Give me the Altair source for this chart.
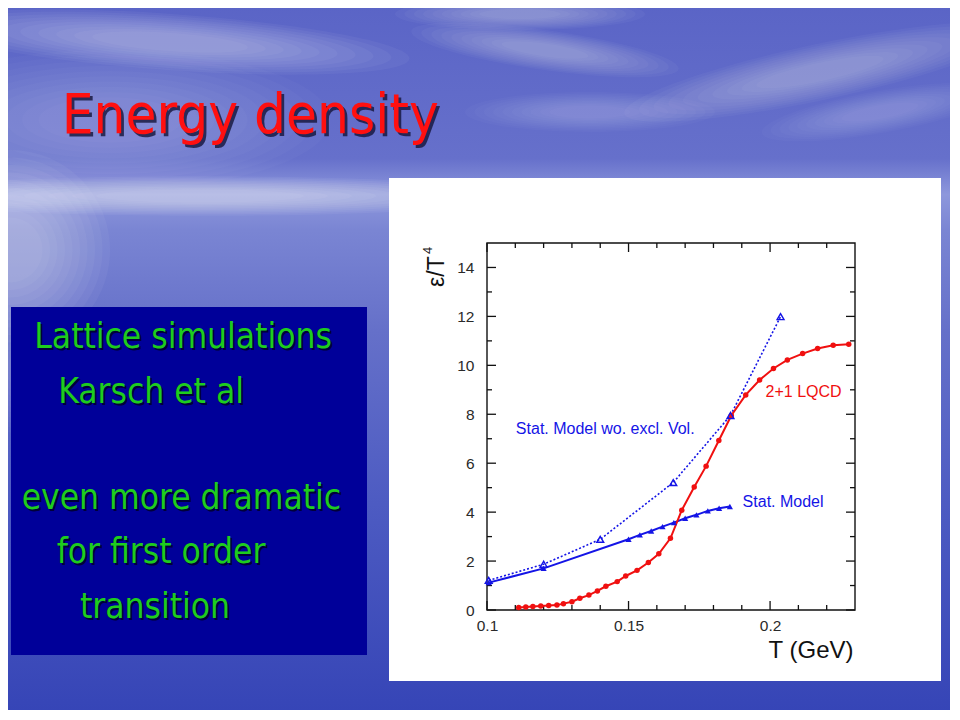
import altair as alt
import pandas as pd

# ---------------- data ----------------
lqcd_T = [0.1112, 0.1137, 0.1162, 0.1190, 0.1218, 0.1247, 0.1270, 0.1300, 0.1328, 0.1360,
          0.1390, 0.1420, 0.1460, 0.1490, 0.1530, 0.1570, 0.1607, 0.1648, 0.1688, 0.1732,
          0.1774, 0.1819, 0.1863, 0.1914, 0.1963, 0.2012, 0.2061, 0.2115, 0.2168, 0.2223, 0.2278]
lqcd_e = [0.10, 0.12, 0.14, 0.16, 0.18, 0.20, 0.26, 0.34, 0.48, 0.61,
          0.78, 0.97, 1.16, 1.39, 1.62, 1.94, 2.30, 2.93, 4.08, 5.03,
          5.88, 6.93, 7.95, 8.79, 9.40, 9.87, 10.22, 10.48, 10.69, 10.82, 10.86]

stat_T = [0.1006, 0.1200, 0.1500, 0.1540, 0.1580, 0.1620, 0.1660, 0.1700, 0.1740, 0.1780, 0.1820, 0.1858]
stat_e = [1.12, 1.70, 2.89, 3.07, 3.23, 3.41, 3.57, 3.75, 3.89, 4.05, 4.16, 4.23]

wo_T = [0.1006, 0.1200, 0.1400, 0.1658, 0.1860, 0.2037]
wo_e = [1.21, 1.87, 2.89, 5.21, 7.95, 11.99]

x_major = [0.1, 0.15, 0.2]
x_minor = [0.11, 0.12, 0.13, 0.14, 0.16, 0.17, 0.18, 0.19, 0.21, 0.22]
y_major = [0, 2, 4, 6, 8, 10, 12, 14]
y_minor = [1, 3, 5, 7, 9, 11, 13]

ann_text = ["Stat. Model wo. excl. Vol.", "2+1 LQCD", "Stat. Model"]
ann_series = ["wo", "lqcd", "stat"]
ann_T = [0.1102, 0.1984, 0.1903]
ann_e = [7.2, 8.7, 4.2]

slide_title = "Energy density"
bullet_lines = ["Lattice simulations", "Karsch et al", "even more dramatic",
                "for first order", "transition"]
x_title = "T (GeV)"
y_title_main = "\u03b5/T"
y_title_sup = "4"

# ---------------- layout ----------------
W, H = 368, 367          # plot frame
OX, OY = 487, 243        # page position of plot origin


def px(X):
    return X - OX


def py(Y):
    return Y - OY


RED = "#f01010"
BLUE = "#1414e6"
GREEN = "#1ecc1e"

one = pd.DataFrame({"k": [0]})
xscale = alt.Scale(domain=[0.1, 0.23], nice=False, zero=False)
yscale = alt.Scale(domain=[0, 15], nice=False, zero=False)

xaxis = alt.Axis(values=x_major, format=".2~f", ticks=False, tickSize=0, domain=False, grid=False,
                 labelFont="Liberation Sans", labelFontSize=15.5, labelColor="#2a2a2a",
                 labelPadding=8, labelFlush=False, title=None, zindex=2)
yaxis = alt.Axis(values=y_major, format="d", ticks=False, tickSize=0, domain=False, grid=False,
                 labelFont="Liberation Sans", labelFontSize=15.5, labelColor="#2a2a2a",
                 labelPadding=13, title=None, zindex=2)


def rect(x1, y1, x2, y2, **kw):
    return alt.Chart(one).mark_rect(**kw).encode(
        x=alt.value(px(x1)), x2=alt.value(px(x2)), y=alt.value(py(y1)), y2=alt.value(py(y2)))


def cloud(cx, cy, w, h, angle, alpha, n=10):
    r = h / w
    shape = f"M -1 0 A 1 {r:.3f} 0 1 1 1 0 A 1 {r:.3f} 0 1 1 -1 0 Z"
    out = []
    for i in range(n):
        s = 1 - i * (0.75 / n)
        out.append(alt.Chart(one).mark_point(shape=shape, filled=True, color="#ffffff",
                                             opacity=alpha, size=(w * s) ** 2, angle=angle,
                                             strokeWidth=0).encode(
            x=alt.value(px(cx)), y=alt.value(py(cy))))
    return out


def text(t, X, Y, **kw):
    return alt.Chart(one).mark_text(text=t, align="left", baseline="alphabetic", **kw).encode(
        x=alt.value(px(X)), y=alt.value(py(Y)))


# background sky / sea
bg = rect(0, 0, 960, 720, color={
    "gradient": "linear", "x1": 0, "y1": 0, "x2": 0, "y2": 1,
    "stops": [{"offset": 0.00, "color": "#5a64c6"},
              {"offset": 0.22, "color": "#6670cb"},
              {"offset": 0.27, "color": "#8d97dc"},
              {"offset": 0.32, "color": "#7a85d3"},
              {"offset": 0.46, "color": "#6570c9"},
              {"offset": 0.70, "color": "#4d5bc2"},
              {"offset": 1.00, "color": "#3544b6"}]})

clouds = (cloud(170, 42, 480, 56, 4, 0.045) +
          cloud(520, 14, 250, 32, 0, 0.035) +
          cloud(545, 50, 270, 40, 8, 0.035) +
          cloud(820, 72, 400, 56, 348, 0.035) +
          cloud(880, 112, 240, 42, 350, 0.025) +
          cloud(590, 112, 250, 40, 0, 0.025) +
          cloud(110, 120, 440, 140, 0, 0.022) +
          cloud(200, 196, 640, 40, 0, 0.05) +
          cloud(10, 250, 200, 200, 0, 0.045) +
          cloud(30, 370, 150, 130, 0, 0.02))

blue_box = rect(11, 307, 367, 655, color="#000099")
panel = rect(389, 178, 941, 681, color="#ffffff")
frame = alt.Chart(one).mark_rect(fillOpacity=0, stroke="#111111", strokeWidth=1.4).encode(
    x=alt.value(0), x2=alt.value(W), y=alt.value(0), y2=alt.value(H))

TFONT = "DejaVu Sans Condensed"
title_shadow = text(slide_title, 64.5, 136, font=TFONT, fontSize=56, color="#15153a", opacity=0.8)
title_main = text(slide_title, 61.7, 133, font=TFONT, fontSize=56, color="#ff1010")

bullet_x = [34.3, 58.3, 21.7, 56.7, 80.0]
bullet_y = [348.3, 402.7, 509.3, 563.3, 617.7]
bullets = []
for t, bx, byy in zip(bullet_lines, bullet_x, bullet_y):
    bullets.append(text(t, bx + 2, byy + 2, font=TFONT, fontSize=35, color="#000022", opacity=0.8))
    bullets.append(text(t, bx, byy, font=TFONT, fontSize=35, color=GREEN))

# ---------------- plot ----------------
lqcd = pd.DataFrame({"T": lqcd_T, "e": lqcd_e})
stat = pd.DataFrame({"T": stat_T, "e": stat_e})
wo = pd.DataFrame({"T": wo_T, "e": wo_e})
ann = pd.DataFrame({"T": ann_T, "e": ann_e, "label": ann_text, "series": ann_series})

X = alt.X("T:Q", scale=xscale, axis=xaxis)
Y = alt.Y("e:Q", scale=yscale, axis=yaxis)

lqcd_line = alt.Chart(lqcd).mark_line(color=RED, strokeWidth=2).encode(x=X, y=Y)
lqcd_pts = alt.Chart(lqcd).mark_point(shape="circle", filled=True, size=30, color=RED, opacity=1).encode(x=X, y=Y)

stat_line = alt.Chart(stat).mark_line(color=BLUE, strokeWidth=2).encode(x=X, y=Y)
stat_pts = alt.Chart(stat).mark_point(shape="triangle-up", filled=True, size=38, color=BLUE, opacity=1).encode(x=X, y=Y)

wo_line = alt.Chart(wo).mark_line(color=BLUE, strokeWidth=1.6, strokeDash=[2, 2]).encode(x=X, y=Y)
wo_pts = alt.Chart(wo).mark_point(shape="triangle-up", filled=False, size=48, color=BLUE,
                                  strokeWidth=1.4, opacity=1).encode(x=X, y=Y)

ann_layer = alt.Chart(ann).mark_text(align="left", baseline="alphabetic", font="Liberation Sans",
                                     fontSize=16).encode(
    x=X, y=Y, text="label:N",
    color=alt.Color("series:N", scale=alt.Scale(domain=["wo", "lqcd", "stat"], range=[BLUE, RED, BLUE]),
                    legend=None))

# tick marks (inward, all four sides)
ymaj = pd.DataFrame({"v": y_major})
ymin = pd.DataFrame({"v": y_minor})
xmaj = pd.DataFrame({"v": x_major})
xmin = pd.DataFrame({"v": x_minor})
TY = alt.Y("v:Q", scale=yscale, axis=yaxis)
TX = alt.X("v:Q", scale=xscale, axis=xaxis)
tk = dict(color="#111111", strokeWidth=1.3)
ticks = [
    alt.Chart(ymaj).mark_rule(**tk).encode(y=TY, x=alt.value(0), x2=alt.value(9)),
    alt.Chart(ymaj).mark_rule(**tk).encode(y=TY, x=alt.value(W), x2=alt.value(W - 9)),
    alt.Chart(ymin).mark_rule(**tk).encode(y=TY, x=alt.value(0), x2=alt.value(5)),
    alt.Chart(ymin).mark_rule(**tk).encode(y=TY, x=alt.value(W), x2=alt.value(W - 5)),
    alt.Chart(xmaj).mark_rule(**tk).encode(x=TX, y=alt.value(H), y2=alt.value(H - 9)),
    alt.Chart(xmaj).mark_rule(**tk).encode(x=TX, y=alt.value(0), y2=alt.value(9)),
    alt.Chart(xmin).mark_rule(**tk).encode(x=TX, y=alt.value(H), y2=alt.value(H - 5)),
    alt.Chart(xmin).mark_rule(**tk).encode(x=TX, y=alt.value(0), y2=alt.value(5)),
]

x_title_layer = alt.Chart(one).mark_text(text=x_title, align="right", baseline="alphabetic",
                                         font="Liberation Sans", fontSize=24, color="#111111").encode(
    x=alt.value(px(853.5)), y=alt.value(py(658)))
y_title_layer = alt.Chart(one).mark_text(text=y_title_main, angle=270, align="left", baseline="alphabetic",
                                         font="Liberation Sans", fontSize=23, color="#111111").encode(
    x=alt.value(px(444)), y=alt.value(py(287)))
y_sup_layer = alt.Chart(one).mark_text(text=y_title_sup, angle=270, align="left", baseline="alphabetic",
                                       font="Liberation Sans", fontSize=13, color="#111111").encode(
    x=alt.value(px(432)), y=alt.value(py(254)))

layers = ([bg] + clouds + [blue_box, title_shadow, title_main] + bullets +
          [panel, frame] + ticks +
          [wo_line, stat_line, lqcd_line, lqcd_pts, stat_pts, wo_pts, ann_layer,
           x_title_layer, y_title_layer, y_sup_layer])

chart = alt.layer(*layers).properties(
    width=W, height=H,
    autosize=alt.AutoSizeParams(type="none"),
    padding={"left": OX - 8, "top": OY - 8, "right": 944 - (OX - 8) - W - 2, "bottom": 704 - (OY - 8) - H - 2},
    background="#3847b7",
).configure_view(strokeWidth=0)

chart.save("out.html", embed_options={"renderer": "svg", "actions": False})
